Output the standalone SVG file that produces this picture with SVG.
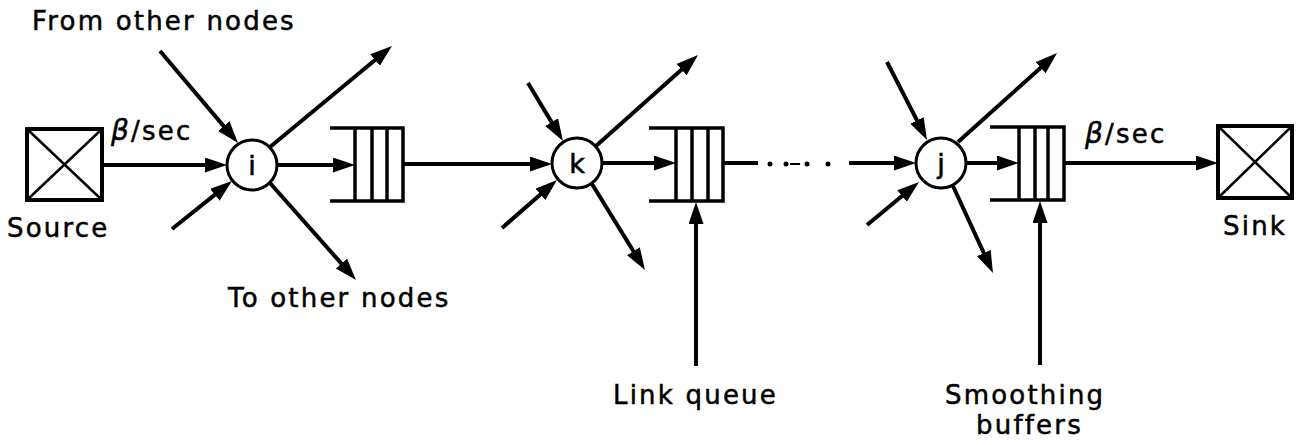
<svg xmlns="http://www.w3.org/2000/svg" width="1299" height="445" viewBox="0 0 1299 445">
  <style>
    .ln { stroke: #000; stroke-width: 4; fill: none; }
    .arr { stroke: #000; stroke-width: 4; fill: none; marker-end: url(#head); }
    .box { stroke: #000; stroke-width: 4; fill: #fff; }
    .thin { stroke: #000; stroke-width: 2.5; fill: none; }
    .node { stroke: #000; stroke-width: 3; fill: #fff; }
    .q { stroke: #000; stroke-width: 3.5; fill: none; }
    .lbl { font-family: "DejaVu Sans", sans-serif; font-size: 26px; letter-spacing: 2.2px; fill: #000; stroke: #000; stroke-width: 0.5; }
    .nl { font-family: "DejaVu Sans", sans-serif; font-size: 27px; fill: #000; stroke: #000; stroke-width: 0.6; text-anchor: middle; }
  </style>
  <defs>
    <marker id="head" markerUnits="userSpaceOnUse" markerWidth="24" markerHeight="16" refX="11" refY="7.5" orient="auto">
      <path d="M0,0 L22,7.5 L0,15 z" fill="#000"/>
    </marker>
  </defs>

  <rect width="1299" height="445" fill="#fff"/>

  <!-- connectors -->
  <g id="connectors">
    <line class="arr" x1="102" y1="165" x2="216" y2="165"/>
    <line class="arr" x1="160" y1="51" x2="230.9" y2="134.6"/>
    <line class="arr" x1="172" y1="229" x2="223.4" y2="187.9"/>
    <line class="arr" x1="270" y1="147" x2="383.5" y2="53"/>
    <line class="arr" x1="270" y1="183" x2="348.7" y2="271.8"/>
    <line class="arr" x1="277" y1="165" x2="344" y2="165"/>

    <line class="arr" x1="403" y1="164" x2="541" y2="164"/>
    <line class="arr" x1="528" y1="83" x2="557.3" y2="131.6"/>
    <line class="arr" x1="502" y1="228" x2="548.7" y2="187.2"/>
    <line class="arr" x1="596" y1="146" x2="689.8" y2="62.3"/>
    <line class="arr" x1="592" y1="184" x2="639.2" y2="260.6"/>
    <line class="arr" x1="602" y1="163" x2="665" y2="163"/>
    <line class="arr" x1="696" y1="366" x2="696" y2="213"/>

    <!-- broken run between the link queue and node j -->
    <line class="ln" x1="723" y1="163" x2="758" y2="163"/>
    <g fill="#000">
      <circle cx="770" cy="164" r="2.5"/>
      <circle cx="786" cy="164" r="2.5"/>
      <rect x="790" y="163" width="10" height="2"/>
      <circle cx="807" cy="164" r="2.5"/>
      <circle cx="828" cy="164" r="2.5"/>
    </g>
    <line class="arr" x1="849" y1="163" x2="905" y2="163"/>
    <line class="arr" x1="887" y1="62" x2="922" y2="130.2"/>
    <line class="arr" x1="867" y1="225" x2="910.5" y2="189"/>
    <line class="arr" x1="958" y1="142" x2="1048.8" y2="60.4"/>
    <line class="arr" x1="953" y1="186" x2="988.4" y2="263"/>
    <line class="arr" x1="966" y1="163" x2="1008" y2="163"/>
    <line class="arr" x1="1040" y1="365" x2="1040" y2="212"/>
    <line class="arr" x1="1064" y1="163" x2="1207" y2="163"/>
  </g>

  <!-- source -->
  <g id="source">
    <rect class="box" x="27" y="129" width="75" height="71"/>
    <line class="thin" x1="27" y1="129" x2="102" y2="200"/>
    <line class="thin" x1="102" y1="129" x2="27" y2="200"/>
    <text class="lbl" x="7" y="237">Source</text>
  </g>

  <!-- node i -->
  <g id="node-i">
    <circle class="node" cx="252" cy="165" r="25"/>
    <text class="nl" x="252" y="175">i</text>
  </g>

  <!-- queue after node i -->
  <g id="queue-1">
    <path class="q" d="M330,128 H403 V201 H330"/>
    <line class="q" x1="355" y1="128" x2="355" y2="201"/>
    <line class="q" x1="372" y1="128" x2="372" y2="201"/>
    <line class="q" x1="387" y1="128" x2="387" y2="201"/>
  </g>

  <!-- node k -->
  <g id="node-k">
    <circle class="node" cx="577" cy="163" r="25"/>
    <text class="nl" x="577" y="173">k</text>
  </g>

  <!-- link queue -->
  <g id="queue-2">
    <path class="q" d="M649,128 H723 V201 H649"/>
    <line class="q" x1="676" y1="128" x2="676" y2="201"/>
    <line class="q" x1="692" y1="128" x2="692" y2="201"/>
    <line class="q" x1="708" y1="128" x2="708" y2="201"/>
  </g>

  <!-- node j -->
  <g id="node-j">
    <circle class="node" cx="941" cy="163" r="25"/>
    <text class="nl" x="941" y="173">j</text>
  </g>

  <!-- smoothing buffer -->
  <g id="queue-3">
    <path class="q" d="M990,127 H1064 V200 H990"/>
    <line class="q" x1="1019" y1="127" x2="1019" y2="200"/>
    <line class="q" x1="1035" y1="127" x2="1035" y2="200"/>
    <line class="q" x1="1048" y1="127" x2="1048" y2="200"/>
  </g>

  <!-- sink -->
  <g id="sink">
    <rect class="box" x="1218" y="126" width="74" height="72"/>
    <line class="thin" x1="1218" y1="126" x2="1292" y2="198"/>
    <line class="thin" x1="1292" y1="126" x2="1218" y2="198"/>
    <text class="lbl" x="1223" y="235">Sink</text>
  </g>

  <!-- labels -->
  <g id="labels">
    <text class="lbl" x="32" y="30">From other nodes</text>
    <text class="lbl" x="111" y="140"><tspan font-style="italic" font-size="28">β</tspan>/sec</text>
    <text class="lbl" x="228" y="307">To other nodes</text>
    <text class="lbl" x="613" y="404">Link queue</text>
    <text class="lbl" x="945" y="404">Smoothing</text>
    <text class="lbl" x="976" y="434">buffers</text>
    <text class="lbl" x="1085" y="143"><tspan font-style="italic" font-size="28">β</tspan>/sec</text>
  </g>
</svg>
